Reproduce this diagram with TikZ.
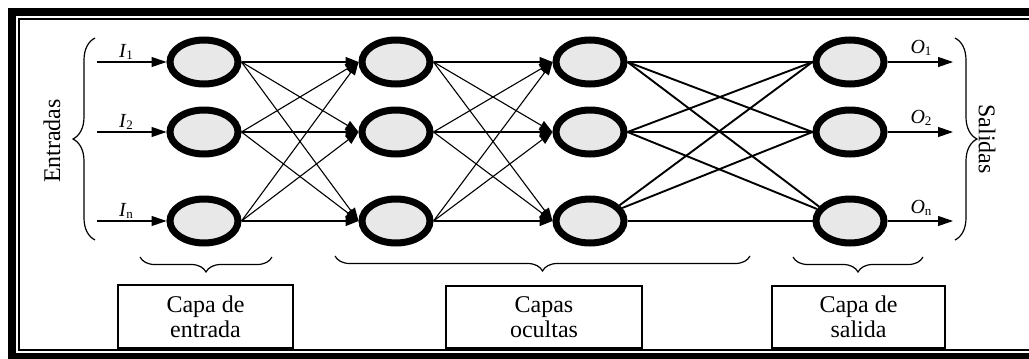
\documentclass[tikz,border=0pt]{standalone}
\usepackage{fontspec}
\setmainfont{Liberation Serif}
\usetikzlibrary{arrows.meta,shapes.geometric,decorations.pathreplacing}
\definecolor{nodegray}{HTML}{E8E8E8}
\begin{document}
\begin{tikzpicture}[x=1pt,y=-1pt,
  neuron/.style={ellipse,draw=black,fill=nodegray,line width=7pt,minimum width=68pt,minimum height=44pt,inner sep=0pt},
  conn/.style={line width=1.1pt},
  arr/.style={conn,-{Triangle[length=13pt,width=10pt]}},
  thickconn/.style={line width=1.9pt},
  iolbl/.style={font=\fontsize{20}{20}\selectfont,anchor=base,inner sep=0pt},
  layerbox/.style={draw,line width=1.3pt,align=center,font=\fontsize{24}{25}\selectfont,inner sep=0pt},
  sidebrace/.style={decorate,decoration={brace,amplitude=22pt},line width=1.2pt},
  lowbrace/.style={decorate,decoration={brace,amplitude=15pt},line width=1.2pt},
  sidetext/.style={font=\fontsize{24}{24}\selectfont,inner sep=0pt}
]
\useasboundingbox (0,0) rectangle (1029,359);
% frame
\fill[black] (8,8) rectangle (1029,16);
\fill[black] (8,8) rectangle (16,359);
\fill[black] (8,353) rectangle (1029,359);
\draw[line width=2.2pt] (1029,18.7) -- (18.7,18.7) -- (18.7,350) -- (1029,350);

% neurons
\foreach \r/\y in {1/62,2/132,3/221}{
  \node[neuron] (a\r) at (204,\y) {};
  \node[neuron] (b\r) at (396,\y) {};
  \node[neuron] (c\r) at (590,\y) {};
  \node[neuron] (d\r) at (850,\y) {};
  \coordinate (in\r) at (97,\y);
  \coordinate (out\r) at (953,\y);
}

% inputs / outputs
\foreach \r in {1,2,3}{
  \draw[conn,-{Triangle[length=15pt,width=10pt]}] (in\r) -- (a\r.west);
  \draw[conn,-{Triangle[length=15pt,width=10pt]}] (d\r.east) -- (out\r);
}
\node[iolbl] (li1) at (126,57) {\textit{I}\raisebox{-2pt}{\fontsize{13}{13}\selectfont 1}};
\node[iolbl] (li2) at (126,127) {\textit{I}\raisebox{-2pt}{\fontsize{13}{13}\selectfont 2}};
\node[iolbl] (li3) at (126,216) {\textit{I}\raisebox{-2pt}{\fontsize{13}{13}\selectfont n}};
\node[iolbl] (lo1) at (921,53) {\textit{O}\raisebox{-2pt}{\fontsize{13}{13}\selectfont 1}};
\node[iolbl] (lo2) at (921,123) {\textit{O}\raisebox{-2pt}{\fontsize{13}{13}\selectfont 2}};
\node[iolbl] (lo3) at (921,213) {\textit{O}\raisebox{-2pt}{\fontsize{13}{13}\selectfont n}};

% connections
\foreach \i in {1,2,3}{
  \foreach \j in {1,2,3}{
    \draw[arr] (a\i.east) -- (b\j.west);
    \draw[arr] (b\i.east) -- (c\j.west);
  }
}
\foreach \i in {1,2}{
  \foreach \j in {1,2}{
    \draw[thickconn] (c\i.east) -- (d\j.west);
  }
}
\draw[thickconn] (c1.east) -- (d3.155);
\draw[thickconn] (c2.east) -- (d3.160);
\draw[thickconn] (c3.28) -- (d1.west);
\draw[thickconn] (c3.22) -- (d2.west);
\draw[thickconn] (c3.east) -- (d3.west);

% side braces and labels
\coordinate (lbA) at (95,240); \coordinate (lbB) at (95,38);
\draw[sidebrace] (lbA) -- (lbB);
\node[sidetext,rotate=90] (entr) at (52,141) {Entradas};
\coordinate (rbA) at (955,38); \coordinate (rbB) at (955,240);
\draw[sidebrace] (rbA) -- (rbB);
\node[sidetext,rotate=-90] (sal) at (987,139) {Salidas};

% bottom braces
\coordinate (bb1a) at (272,257); \coordinate (bb1b) at (140,257);
\coordinate (bb2a) at (750,256); \coordinate (bb2b) at (335,256);
\coordinate (bb3a) at (923,257); \coordinate (bb3b) at (793,257);
\draw[lowbrace] (bb1a) -- (bb1b);
\draw[lowbrace] (bb2a) -- (bb2b);
\draw[lowbrace] (bb3a) -- (bb3b);

% boxes
\node[layerbox,minimum width=175pt,minimum height=63pt] (box1) at (205.5,316.5) {Capa de\\entrada};
\node[layerbox,minimum width=196pt,minimum height=62pt] (box2) at (544,317) {Capas\\ocultas};
\node[layerbox,minimum width=173pt,minimum height=62pt] (box3) at (858.5,317) {Capa de\\salida};
\end{tikzpicture}
\end{document}
